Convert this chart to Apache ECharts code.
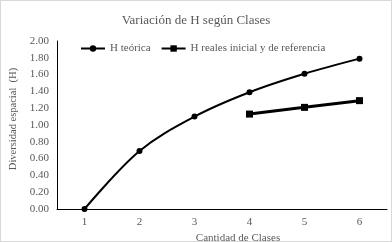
<!DOCTYPE html>
<html><head><meta charset="utf-8">
<script src="https://cdn.jsdelivr.net/npm/echarts@6/dist/echarts.min.js"></script>
<style>html,body{margin:0;padding:0;background:#fff}#c{width:392px;height:242px;box-sizing:border-box;border:1px solid #d9d9d9}</style>
</head><body><div id="c"></div>
<script>
const categories = ['1','2','3','4','5','6'];
const hTeorica = [0, 0.69, 1.10, 1.39, 1.61, 1.79];
const hReales = [null, null, null, 1.13, 1.21, 1.29];
const yTicks = [0, 2, 0.2];
const chart = echarts.init(document.getElementById('c'));
const font = 'Liberation Serif';
chart.setOption({
  animation:false,
  textStyle:{fontFamily:font},
  title:{text:'Variación de H según Clases',left:'center',top:8,textStyle:{fontFamily:font,fontSize:13,fontWeight:'normal',color:'#595959'}},
  legend:{top:37,left:74,itemGap:10,itemWidth:24,itemHeight:8,textStyle:{fontFamily:font,fontSize:11,color:'#595959'},
    data:[{name:'H teórica'},{name:'H reales inicial y de referencia'}]},
  grid:{left:56,right:4,top:40,bottom:32,outerBoundsMode:'none',containLabel:false},
  xAxis:{type:'category',data:categories,boundaryGap:true,
    axisLine:{lineStyle:{color:'#000',width:1}},axisTick:{show:false},
    axisLabel:{color:'#595959',fontSize:11,margin:8,fontFamily:font},
    name:'Cantidad de Clases',nameLocation:'middle',nameGap:17,
    nameTextStyle:{color:'#595959',fontSize:11,fontFamily:font,padding:[0,0,0,32]}},
  yAxis:{type:'value',min:yTicks[0],max:yTicks[1],interval:yTicks[2],
    axisLine:{show:true,lineStyle:{color:'#000',width:1}},axisTick:{show:false},splitLine:{show:false},
    axisLabel:{color:'#595959',fontSize:11,margin:8,fontFamily:font,formatter:v=>v.toFixed(2)},
    name:'Diversidad espacial  (H)',nameLocation:'middle',nameGap:38,
    nameTextStyle:{color:'#595959',fontSize:10.5,fontFamily:font,padding:[0,0,0,12]}},
  series:[
    {name:'H teórica',type:'line',data:hTeorica,smooth:0.35,symbol:'circle',symbolSize:6,
      lineStyle:{color:'#000',width:2},itemStyle:{color:'#000'}},
    {name:'H reales inicial y de referencia',type:'line',data:hReales,symbol:'rect',symbolSize:7,
      lineStyle:{color:'#000',width:3},itemStyle:{color:'#000'}}
  ]
});
</script></body></html>
